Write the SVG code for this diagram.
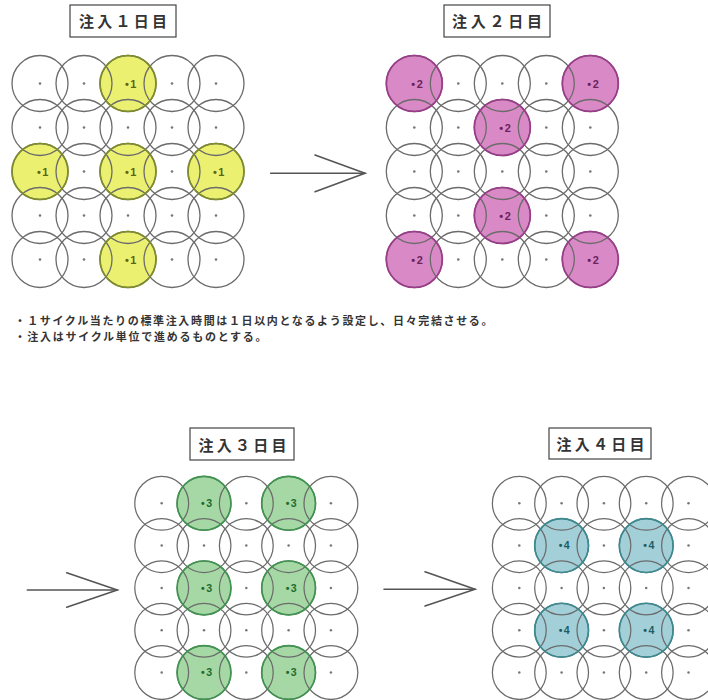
<svg xmlns="http://www.w3.org/2000/svg" xmlns:xlink="http://www.w3.org/1999/xlink" width="708" height="700" viewBox="0 0 708 700">
<style>
.o{fill:none;stroke:#6b6b6b;stroke-width:1.3}
.d{fill:#777}
.hs{fill:none;stroke-width:1.7}
.fy{fill:#ebf070}.sy{stroke:#7f8c2c}
.fm{fill:#d98ac6}.sm{stroke:#9b3c8a}
.fg{fill:#a5d8a5}.sg{stroke:#3f9450}
.ft{fill:#a3d0d8}.st{stroke:#3b8a90}
.lbl{font-family:"Liberation Sans",Arial,sans-serif;font-weight:700;font-size:11px;letter-spacing:1.5px}
.ly{fill:#5d6614}.lm{fill:#6e1f5e}.lg{fill:#1f6b2d}.lt{fill:#1d5d63}
.ttl rect{fill:#fff;stroke:#444;stroke-width:1.2}
.ttl text{font-family:"Noto Sans CJK JP","Noto Sans CJK SC",sans-serif;font-weight:700;font-size:15px;fill:#333;text-anchor:middle}
.note{font-family:"Noto Sans CJK JP","Noto Sans CJK SC",sans-serif;font-weight:700;font-size:11px;fill:#333}
.arr{fill:none;stroke:#555;stroke-width:1.6;stroke-linecap:round;stroke-linejoin:miter}
</style>
<defs>
<g id="grid">
<circle class="o" cx="0" cy="0" r="28"/><circle class="o" cx="44" cy="0" r="28"/><circle class="o" cx="88" cy="0" r="28"/><circle class="o" cx="132" cy="0" r="28"/><circle class="o" cx="176" cy="0" r="28"/>
<circle class="o" cx="0" cy="44" r="28"/><circle class="o" cx="44" cy="44" r="28"/><circle class="o" cx="88" cy="44" r="28"/><circle class="o" cx="132" cy="44" r="28"/><circle class="o" cx="176" cy="44" r="28"/>
<circle class="o" cx="0" cy="88" r="28"/><circle class="o" cx="44" cy="88" r="28"/><circle class="o" cx="88" cy="88" r="28"/><circle class="o" cx="132" cy="88" r="28"/><circle class="o" cx="176" cy="88" r="28"/>
<circle class="o" cx="0" cy="132" r="28"/><circle class="o" cx="44" cy="132" r="28"/><circle class="o" cx="88" cy="132" r="28"/><circle class="o" cx="132" cy="132" r="28"/><circle class="o" cx="176" cy="132" r="28"/>
<circle class="o" cx="0" cy="176" r="28"/><circle class="o" cx="44" cy="176" r="28"/><circle class="o" cx="88" cy="176" r="28"/><circle class="o" cx="132" cy="176" r="28"/><circle class="o" cx="176" cy="176" r="28"/>
</g>
<circle id="dot" r="1.3" class="d"/>
</defs>
<rect width="708" height="700" fill="#fff"/>

<g id="title1" class="ttl"><rect x="70" y="5" width="106" height="32"/><text x="123" y="27" textLength="88">注入１日目</text></g>
<g id="title2" class="ttl"><rect x="444" y="5" width="106" height="32"/><text x="497" y="27" textLength="90">注入２日目</text></g>
<g id="title3" class="ttl"><rect x="190" y="428" width="104" height="32"/><text x="242.5" y="450.5" textLength="88">注入３日目</text></g>
<g id="title4" class="ttl"><rect x="549" y="428" width="102" height="31"/><text x="600.5" y="449.5" textLength="88">注入４日目</text></g>

<g id="panel1" transform="translate(40,83.5)">
<circle class="fy" cx="88" cy="0" r="28"/><circle class="fy" cx="0" cy="88" r="28"/><circle class="fy" cx="88" cy="88" r="28"/><circle class="fy" cx="176" cy="88" r="28"/><circle class="fy" cx="88" cy="176" r="28"/>
<use xlink:href="#grid"/>
<circle class="hs sy" cx="88" cy="0" r="28"/><circle class="hs sy" cx="0" cy="88" r="28"/><circle class="hs sy" cx="88" cy="88" r="28"/><circle class="hs sy" cx="176" cy="88" r="28"/><circle class="hs sy" cx="88" cy="176" r="28"/>
<use xlink:href="#dot" x="0" y="0"/><use xlink:href="#dot" x="44" y="0"/><use xlink:href="#dot" x="132" y="0"/><use xlink:href="#dot" x="176" y="0"/>
<use xlink:href="#dot" x="0" y="44"/><use xlink:href="#dot" x="44" y="44"/><use xlink:href="#dot" x="88" y="44"/><use xlink:href="#dot" x="132" y="44"/><use xlink:href="#dot" x="176" y="44"/>
<use xlink:href="#dot" x="44" y="88"/><use xlink:href="#dot" x="132" y="88"/>
<use xlink:href="#dot" x="0" y="132"/><use xlink:href="#dot" x="44" y="132"/><use xlink:href="#dot" x="88" y="132"/><use xlink:href="#dot" x="132" y="132"/><use xlink:href="#dot" x="176" y="132"/>
<use xlink:href="#dot" x="0" y="176"/><use xlink:href="#dot" x="44" y="176"/><use xlink:href="#dot" x="132" y="176"/><use xlink:href="#dot" x="176" y="176"/>
<text class="lbl ly" x="85" y="4">•1</text><text class="lbl ly" x="-3" y="92">•1</text><text class="lbl ly" x="85" y="92">•1</text><text class="lbl ly" x="173" y="92">•1</text><text class="lbl ly" x="85" y="180">•1</text>
</g>

<g id="panel2" transform="translate(414.3,83.5)">
<circle class="fm" cx="0" cy="0" r="28"/><circle class="fm" cx="176" cy="0" r="28"/><circle class="fm" cx="88" cy="44" r="28"/><circle class="fm" cx="88" cy="132" r="28"/><circle class="fm" cx="0" cy="176" r="28"/><circle class="fm" cx="176" cy="176" r="28"/>
<use xlink:href="#grid"/>
<circle class="hs sm" cx="0" cy="0" r="28"/><circle class="hs sm" cx="176" cy="0" r="28"/><circle class="hs sm" cx="88" cy="44" r="28"/><circle class="hs sm" cx="88" cy="132" r="28"/><circle class="hs sm" cx="0" cy="176" r="28"/><circle class="hs sm" cx="176" cy="176" r="28"/>
<use xlink:href="#dot" x="44" y="0"/><use xlink:href="#dot" x="88" y="0"/><use xlink:href="#dot" x="132" y="0"/>
<use xlink:href="#dot" x="0" y="44"/><use xlink:href="#dot" x="44" y="44"/><use xlink:href="#dot" x="132" y="44"/><use xlink:href="#dot" x="176" y="44"/>
<use xlink:href="#dot" x="0" y="88"/><use xlink:href="#dot" x="44" y="88"/><use xlink:href="#dot" x="88" y="88"/><use xlink:href="#dot" x="132" y="88"/><use xlink:href="#dot" x="176" y="88"/>
<use xlink:href="#dot" x="0" y="132"/><use xlink:href="#dot" x="44" y="132"/><use xlink:href="#dot" x="132" y="132"/><use xlink:href="#dot" x="176" y="132"/>
<use xlink:href="#dot" x="44" y="176"/><use xlink:href="#dot" x="88" y="176"/><use xlink:href="#dot" x="132" y="176"/>
<text class="lbl lm" x="-3" y="4">•2</text><text class="lbl lm" x="173" y="4">•2</text><text class="lbl lm" x="85" y="48">•2</text><text class="lbl lm" x="85" y="136">•2</text><text class="lbl lm" x="-3" y="180">•2</text><text class="lbl lm" x="173" y="180">•2</text>
</g>

<g id="notes">
<text class="note" x="14.5" y="325" textLength="478" lengthAdjust="spacing">・１サイクル当たりの標準注入時間は１日以内となるよう設定し、日々完結させる。</text>
<text class="note" x="14.5" y="341" textLength="252" lengthAdjust="spacing">・注入はサイクル単位で進めるものとする。</text>
</g>

<g id="panel3" transform="translate(161.7,503.3) scale(0.9614)">
<circle class="fg" cx="44" cy="0" r="28"/><circle class="fg" cx="132" cy="0" r="28"/><circle class="fg" cx="44" cy="88" r="28"/><circle class="fg" cx="132" cy="88" r="28"/><circle class="fg" cx="44" cy="176" r="28"/><circle class="fg" cx="132" cy="176" r="28"/>
<use xlink:href="#grid"/>
<circle class="hs sg" cx="44" cy="0" r="28"/><circle class="hs sg" cx="132" cy="0" r="28"/><circle class="hs sg" cx="44" cy="88" r="28"/><circle class="hs sg" cx="132" cy="88" r="28"/><circle class="hs sg" cx="44" cy="176" r="28"/><circle class="hs sg" cx="132" cy="176" r="28"/>
<use xlink:href="#dot" x="0" y="0"/><use xlink:href="#dot" x="88" y="0"/><use xlink:href="#dot" x="176" y="0"/>
<use xlink:href="#dot" x="0" y="44"/><use xlink:href="#dot" x="44" y="44"/><use xlink:href="#dot" x="88" y="44"/><use xlink:href="#dot" x="132" y="44"/><use xlink:href="#dot" x="176" y="44"/>
<use xlink:href="#dot" x="0" y="88"/><use xlink:href="#dot" x="88" y="88"/><use xlink:href="#dot" x="176" y="88"/>
<use xlink:href="#dot" x="0" y="132"/><use xlink:href="#dot" x="44" y="132"/><use xlink:href="#dot" x="88" y="132"/><use xlink:href="#dot" x="132" y="132"/><use xlink:href="#dot" x="176" y="132"/>
<use xlink:href="#dot" x="0" y="176"/><use xlink:href="#dot" x="88" y="176"/><use xlink:href="#dot" x="176" y="176"/>
<text class="lbl lg" x="41" y="4">•3</text><text class="lbl lg" x="129" y="4">•3</text><text class="lbl lg" x="41" y="92">•3</text><text class="lbl lg" x="129" y="92">•3</text><text class="lbl lg" x="41" y="180">•3</text><text class="lbl lg" x="129" y="180">•3</text>
</g>

<g id="panel4" transform="translate(519.3,503.3) scale(0.9614)">
<circle class="ft" cx="44" cy="44" r="28"/><circle class="ft" cx="132" cy="44" r="28"/><circle class="ft" cx="44" cy="132" r="28"/><circle class="ft" cx="132" cy="132" r="28"/>
<use xlink:href="#grid"/>
<circle class="hs st" cx="44" cy="44" r="28"/><circle class="hs st" cx="132" cy="44" r="28"/><circle class="hs st" cx="44" cy="132" r="28"/><circle class="hs st" cx="132" cy="132" r="28"/>
<use xlink:href="#dot" x="0" y="0"/><use xlink:href="#dot" x="44" y="0"/><use xlink:href="#dot" x="88" y="0"/><use xlink:href="#dot" x="132" y="0"/><use xlink:href="#dot" x="176" y="0"/>
<use xlink:href="#dot" x="0" y="44"/><use xlink:href="#dot" x="88" y="44"/><use xlink:href="#dot" x="176" y="44"/>
<use xlink:href="#dot" x="0" y="88"/><use xlink:href="#dot" x="44" y="88"/><use xlink:href="#dot" x="88" y="88"/><use xlink:href="#dot" x="132" y="88"/><use xlink:href="#dot" x="176" y="88"/>
<use xlink:href="#dot" x="0" y="132"/><use xlink:href="#dot" x="88" y="132"/><use xlink:href="#dot" x="176" y="132"/>
<use xlink:href="#dot" x="0" y="176"/><use xlink:href="#dot" x="44" y="176"/><use xlink:href="#dot" x="88" y="176"/><use xlink:href="#dot" x="132" y="176"/><use xlink:href="#dot" x="176" y="176"/>
<text class="lbl lt" x="41" y="48">•4</text><text class="lbl lt" x="129" y="48">•4</text><text class="lbl lt" x="41" y="136">•4</text><text class="lbl lt" x="129" y="136">•4</text>
</g>

<g id="connectors">
<g id="arrow1"><line class="arr" x1="270.7" y1="173.3" x2="365" y2="173.3"/><polyline class="arr" points="315,155 365,173.3 315,191.7"/></g>
<g id="arrow2"><line class="arr" x1="27.3" y1="590" x2="117.3" y2="590"/><polyline class="arr" points="66.7,572.7 117.3,590 66.7,607.3"/></g>
<g id="arrow3"><line class="arr" x1="384" y1="589.3" x2="475" y2="589.3"/><polyline class="arr" points="425,571.7 475,589.3 425,606"/></g>
</g>
</svg>
